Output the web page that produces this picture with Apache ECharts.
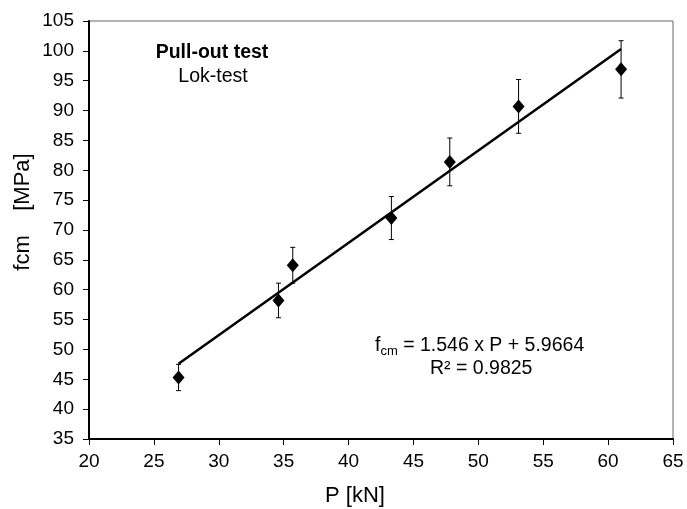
<!DOCTYPE html>
<html>
<head>
<meta charset="utf-8">
<title>Pull-out test</title>
<script src="https://cdn.jsdelivr.net/npm/echarts@6/dist/echarts.min.js"></script>
<style>
  html, body { margin: 0; padding: 0; background: #fff; }
  #pullOutChart { width: 687px; height: 509px; }
</style>
</head>
<body>
<div id="pullOutChart"></div>
<script>
// values
var pLoad = [26.9, 34.6, 35.7, 43.3, 47.8, 53.1, 61.0];
var fcmMean = [45.3, 58.2, 64.1, 72.0, 81.4, 90.7, 96.9];
var fcmErr = [2.2, 2.9, 3.0, 3.6, 4.0, 4.5, 4.8];
// regression line end points (fcm = 1.546 x P + 5.9664)
var trendP = [26.9, 61.0];
var trendFcm = [47.6, 100.3];

var xTicks = { min: 20, max: 65, step: 5 };
var yTicks = { min: 35, max: 105, step: 5 };

var chartDom = document.getElementById('pullOutChart');
var pullOutChart = echarts.init(chartDom);

var font = 'Liberation Sans, Arial, sans-serif';

function loadChart() {
    var points = [], bars = [], trend = [];
    for (var i = 0; i < pLoad.length; i++) {
        points.push([pLoad[i], fcmMean[i]]);
        bars.push([pLoad[i], fcmMean[i] - fcmErr[i], fcmMean[i] + fcmErr[i]]);
    }
    for (var j = 0; j < trendP.length; j++) {
        trend.push([trendP[j], trendFcm[j]]);
    }

    var option = {
        animation: false,
        backgroundColor: '#fff',
        textStyle: { fontFamily: font },
        grid: {
            left: 89, right: 14, top: 21, bottom: 70,
            show: true, borderColor: '#666', borderWidth: 1
        },
        xAxis: {
            type: 'value',
            min: xTicks.min, max: xTicks.max, interval: xTicks.step,
            axisLine: { onZero: false, lineStyle: { color: '#000', width: 2 } },
            axisTick: { show: true, length: 6, lineStyle: { color: '#000', width: 1 } },
            axisLabel: { fontSize: 19, color: '#000', margin: 13, fontFamily: font },
            splitLine: { show: false }
        },
        yAxis: {
            type: 'value',
            min: yTicks.min, max: yTicks.max, interval: yTicks.step,
            axisLine: { onZero: false, lineStyle: { color: '#000', width: 2 } },
            axisTick: { show: true, length: 6, lineStyle: { color: '#000', width: 1 } },
            axisLabel: { fontSize: 19, color: '#000', margin: 15, fontFamily: font },
            splitLine: { show: false }
        },
        graphic: [
            {
                type: 'text', x: 355, y: 496,
                style: { text: 'P [kN]', fontSize: 22, fill: '#000', fontFamily: font, align: 'center', verticalAlign: 'middle' }
            },
            {
                type: 'text', x: 23, y: 212, rotation: Math.PI / 2,
                style: { text: 'fcm    [MPa]', fontSize: 22, fill: '#000', fontFamily: font, align: 'center', verticalAlign: 'middle' }
            },
            {
                type: 'text', x: 212, y: 53,
                style: { text: 'Pull-out test', fontSize: 19.5, fontWeight: 'bold', fill: '#000', fontFamily: font, align: 'center', verticalAlign: 'middle' }
            },
            {
                type: 'text', x: 213, y: 77,
                style: { text: 'Lok-test', fontSize: 19.5, fill: '#000', fontFamily: font, align: 'center', verticalAlign: 'middle' }
            },
            {
                type: 'text', x: 375, y: 346,
                style: {
                    text: '{n|f}{s|cm}{n| = 1.546 x P + 5.9664}',
                    fill: '#000', fontFamily: font, verticalAlign: 'middle',
                    rich: {
                        n: { fontSize: 19.5, fontFamily: font, fill: '#000' },
                        s: { fontSize: 13, fontFamily: font, fill: '#000', padding: [10, 0, 0, 0] }
                    }
                }
            },
            {
                type: 'text', x: 430, y: 369,
                style: { text: 'R\u00b2 = 0.9825', fontSize: 19.5, fill: '#000', fontFamily: font, verticalAlign: 'middle' }
            }
        ],
        series: [
            {
                name: 'trend',
                type: 'line',
                data: trend,
                symbol: 'none',
                lineStyle: { color: '#000', width: 2.5 },
                z: 2
            },
            {
                name: 'error',
                type: 'custom',
                data: bars,
                renderItem: function (params, api) {
                    var lo = api.coord([api.value(0), api.value(1)]);
                    var hi = api.coord([api.value(0), api.value(2)]);
                    var cap = 2.5;
                    var st = { stroke: '#000', lineWidth: 1 };
                    return {
                        type: 'group',
                        children: [
                            { type: 'line', shape: { x1: lo[0], y1: lo[1], x2: hi[0], y2: hi[1] }, style: st },
                            { type: 'line', shape: { x1: lo[0] - cap, y1: lo[1], x2: lo[0] + cap, y2: lo[1] }, style: st },
                            { type: 'line', shape: { x1: hi[0] - cap, y1: hi[1], x2: hi[0] + cap, y2: hi[1] }, style: st }
                        ]
                    };
                },
                z: 3
            },
            {
                name: 'fcm',
                type: 'scatter',
                data: points,
                symbol: 'diamond',
                symbolSize: [12, 14],
                itemStyle: { color: '#000', opacity: 1 },
                z: 4
            }
        ]
    };

    pullOutChart.setOption(option);
}

loadChart();

window.onresize = function () {
    pullOutChart.resize();
};
</script>
</body>
</html>
